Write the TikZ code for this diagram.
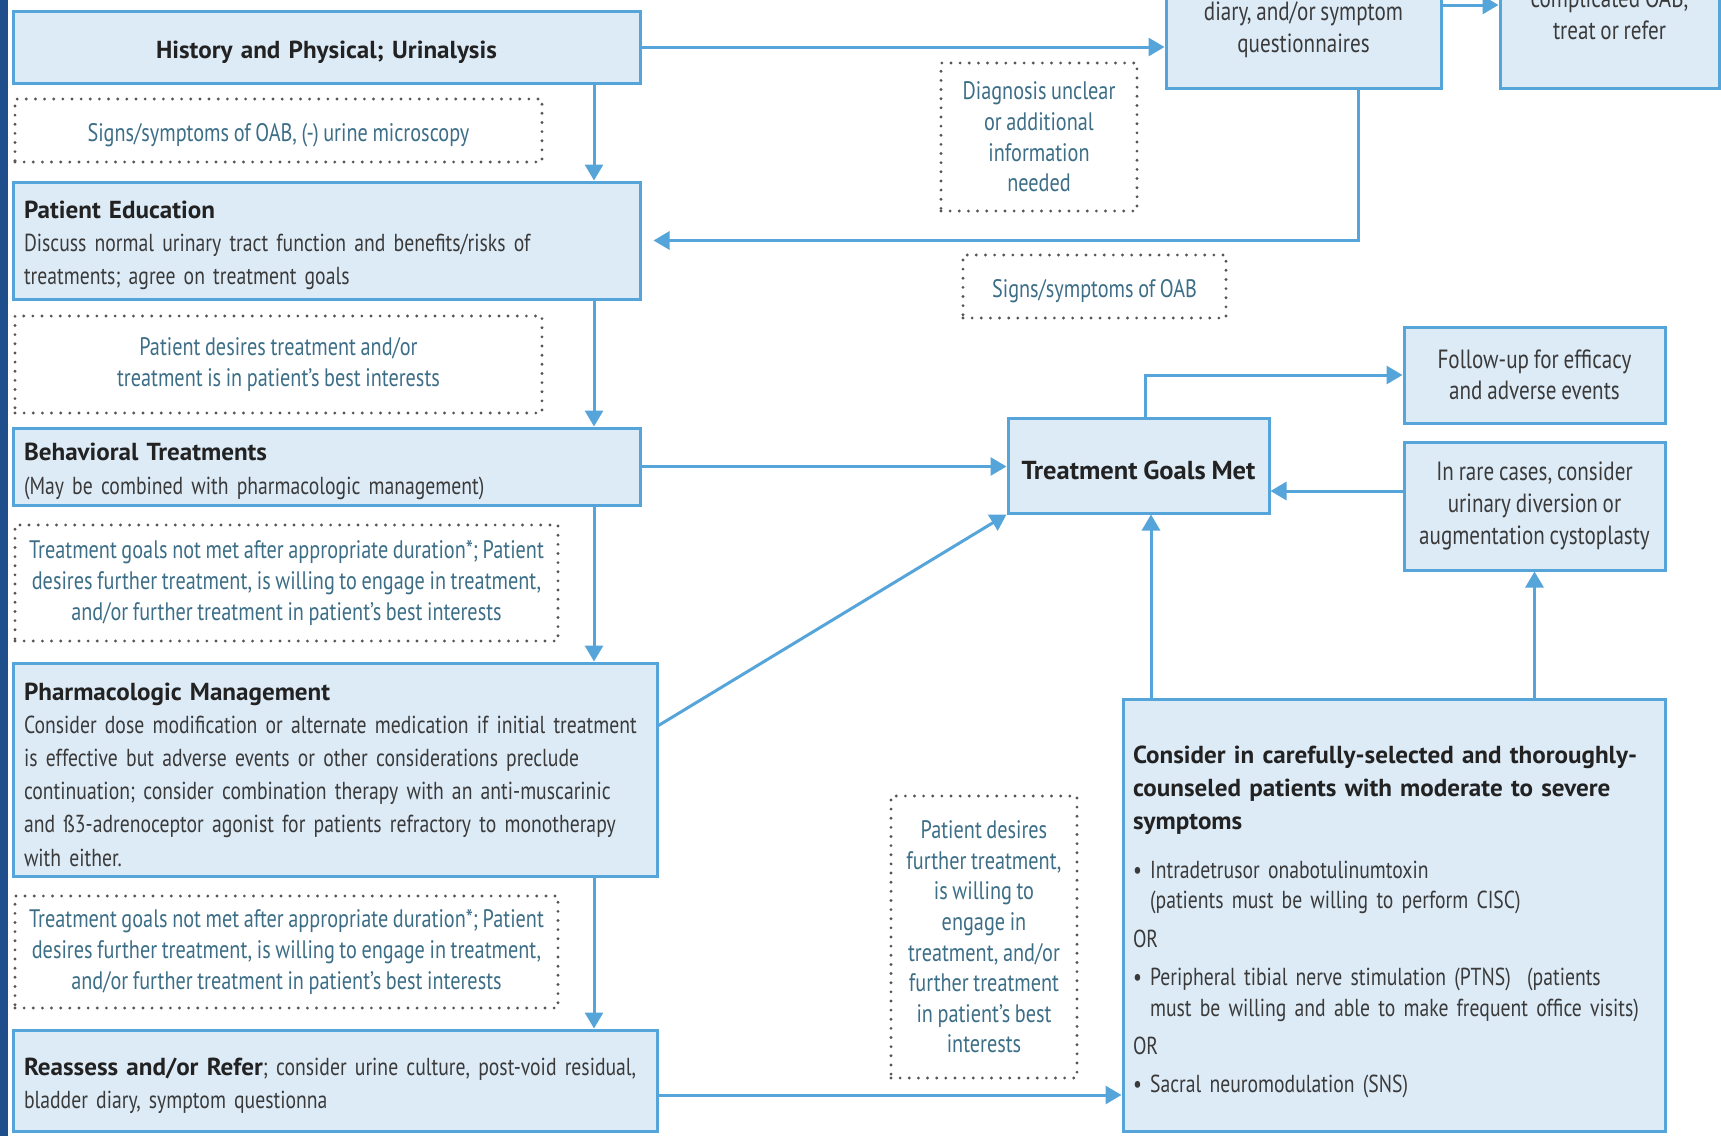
\documentclass[tikz,border=0pt]{standalone}
\usepackage{fontspec}
\setmainfont{PT Sans}[FakeStretch=0.8,WordSpace=0.85]
\newfontfamily\headfont{PT Sans}[FakeStretch=1.02,WordSpace=0.85]
\usetikzlibrary{arrows.meta}
\definecolor{oabblue}{HTML}{55A5DA}
\definecolor{oabfill}{HTML}{DDEBF7}
\definecolor{dotgray}{HTML}{555555}
\definecolor{notetext}{HTML}{3C6E87}
\definecolor{bodytext}{HTML}{3A3A3A}
\definecolor{headtext}{HTML}{222222}
\definecolor{stripblue}{HTML}{1E4E8C}
\newcommand{\hd}[1]{{\headfont\bfseries\color{headtext}#1}}
\begin{document}
\begin{tikzpicture}[x=0.1mm,y=-0.1mm,font=\fontsize{7}{9.45}\selectfont,
  box/.style={draw=oabblue,fill=oabfill,line width=0.3mm,inner xsep=1.1mm,inner ysep=0pt,text=bodytext,execute at begin node={\rule{0pt}{7.8pt}}},
  big/.style={font=\fontsize{7.5}{9}\selectfont},
  note/.style={draw=dotgray,line width=0.9pt,dash pattern=on 0pt off 2.6pt,line cap=round,align=center,text=notetext,inner sep=0pt,font=\fontsize{7.2}{8.7}\selectfont,execute at begin node={\rule{0pt}{7.8pt}}},
  link/.style={draw=oabblue,line width=0.3mm,-{Triangle[length=1.6mm,width=1.8mm]}}]
\useasboundingbox (0,0) rectangle (1721,1136);
\fill[white] (0,0) rectangle (1721,1136);
\fill[stripblue] (0,0) rectangle (8,1136);

% left column
\node[box,text width=60.5mm,minimum height=7.2mm,align=center](hist) at (326.5,47){\hd{History and Physical; Urinalysis}};
\node[note,minimum width=52.7mm,minimum height=6.3mm](d1) at (278.5,130.5){Signs/symptoms of OAB, (-) urine microscopy};
\node[box,text width=60.5mm,minimum height=11.7mm,align=left](edu) at (326.5,240.5){\hd{Patient Education}\\Discuss normal urinary tract function and benefits/risks of\\treatments; agree on treatment goals};
\node[note,minimum width=52.7mm,minimum height=9.7mm](d2) at (278.5,364.5){Patient desires treatment and/or\\treatment is in patient’s best interests};
\node[box,text width=60.5mm,minimum height=7.7mm,align=left](beh) at (326.5,466.5){\hd{Behavioral Treatments}\\(May be combined with pharmacologic management)};
\node[note,minimum width=54.3mm,minimum height=11.6mm](d3) at (286.5,583){Treatment goals not met after appropriate duration*; Patient\\desires further treatment, is willing to engage in treatment,\\and/or further treatment in patient’s best interests};
\node[box,text width=62.2mm,minimum height=21.3mm,align=left](pharm) at (335,769.5){\hd{Pharmacologic Management}\\Consider dose modification or alternate medication if initial treatment\\is effective but adverse events or other considerations preclude\\continuation; consider combination therapy with an anti-muscarinic\\and ß3-adrenoceptor agonist for patients refractory to monotherapy\\with either.};
\node[note,minimum width=54.3mm,minimum height=11.2mm](d4) at (286.5,952){Treatment goals not met after appropriate duration*; Patient\\desires further treatment, is willing to engage in treatment,\\and/or further treatment in patient’s best interests};
\node[box,text width=62.2mm,minimum height=10.1mm,align=left](reas) at (335,1080.5){\hd{Reassess and/or Refer}; consider urine culture, post-void residual,\\bladder diary, symptom questionna};

% top right
\node[box,minimum width=27.5mm,minimum height=16.6mm](diary) at (1303.5,5){};
\node[big,align=center,text=bodytext](diarytext) at (1303.5,30){diary, and/or symptom\\questionnaires};
\node[box,minimum width=21.9mm,minimum height=16.6mm](compl) at (1609.5,5){};
\node[big,align=center,text=bodytext](compltext) at (1609.5,14){complicated OAB,\\treat or refer};
\node[note,minimum width=19.6mm,minimum height=14.8mm,execute at begin node={}](d5) at (1039,137){Diagnosis unclear\\or additional\\information\\needed};
\node[note,minimum width=26.3mm,minimum height=6.3mm](d6) at (1094.5,286.5){Signs/symptoms of OAB};

% right part
\node[box,minimum width=26.1mm,minimum height=9.5mm,font=\fontsize{7.4}{9}\selectfont](goal) at (1138.5,465.5){\hd{Treatment Goals Met}};
\node[box,big,minimum width=26.1mm,minimum height=9.6mm,align=center](follow) at (1534.5,375){Follow-up for efficacy\\and adverse events};
\node[box,big,minimum width=26.1mm,minimum height=12.8mm,align=center](rare) at (1534.5,506){In rare cases, consider\\urinary diversion or\\augmentation cystoplasty};
\node[note,minimum width=18.6mm,minimum height=28.2mm,execute at begin node={}](d7) at (984,937){Patient desires\\further treatment,\\is willing to\\engage in\\treatment, and/or\\further treatment\\in patient’s best\\interests};
\node[box,text width=52.2mm,inner xsep=1mm,minimum height=43.2mm,align=left,font=\fontsize{7}{8.8}\selectfont,execute at begin node={\rule{0pt}{8.9pt}}](cons) at (1394,915){\hd{Consider in carefully-selected and thoroughly-}\\[0.7pt]\hd{counseled patients with moderate to severe}\\[0.7pt]\hd{symptoms}\\[4.9pt]
• Intradetrusor onabotulinumtoxin\\\phantom{•\ }(patients must be willing to perform CISC)\\[2.3pt]
OR\\[2pt]
• Peripheral tibial nerve stimulation (PTNS)\ \ (patients\\\phantom{•\ }must be willing and able to make frequent office visits)\\[2pt]
OR\\[2pt]
• Sacral neuromodulation (SNS)};

% connectors
\coordinate (col) at (594,0);
\coordinate (back) at (1358,0);
\coordinate (up) at (1151,0);
\draw[link] (hist.south -| col) -- (edu.north -| col);
\draw[link] (edu.south -| col) -- (beh.north -| col);
\draw[link] (beh.south -| col) -- (pharm.north -| col);
\draw[link] (pharm.south -| col) -- (reas.north -| col);
\draw[link] (hist.east) -- (hist.east -| diary.west);
\draw[link] (diary.east) -- (compl.west);
\draw[link] (diary.south -| back) |- ([xshift=1.2mm]edu.east);
\draw[link] (beh.east) -- (beh.east -| goal.west);
\draw[link] ([yshift=-6.4mm]pharm.north east) -- (goal.south west);
\draw[link] ([xshift=0.65mm]goal.north) |- (follow.west);
\draw[link] ([yshift=1.5mm]rare.west) -- ([yshift=1.5mm]rare.west -| goal.east);
\draw[link] (cons.north -| up) -- (goal.south -| up);
\draw[link] (cons.north -| rare.south) -- (rare.south);
\draw[link] ([yshift=-1.45mm]reas.east) -- ([yshift=-1.45mm]reas.east -| cons.west);
\end{tikzpicture}
\end{document}
